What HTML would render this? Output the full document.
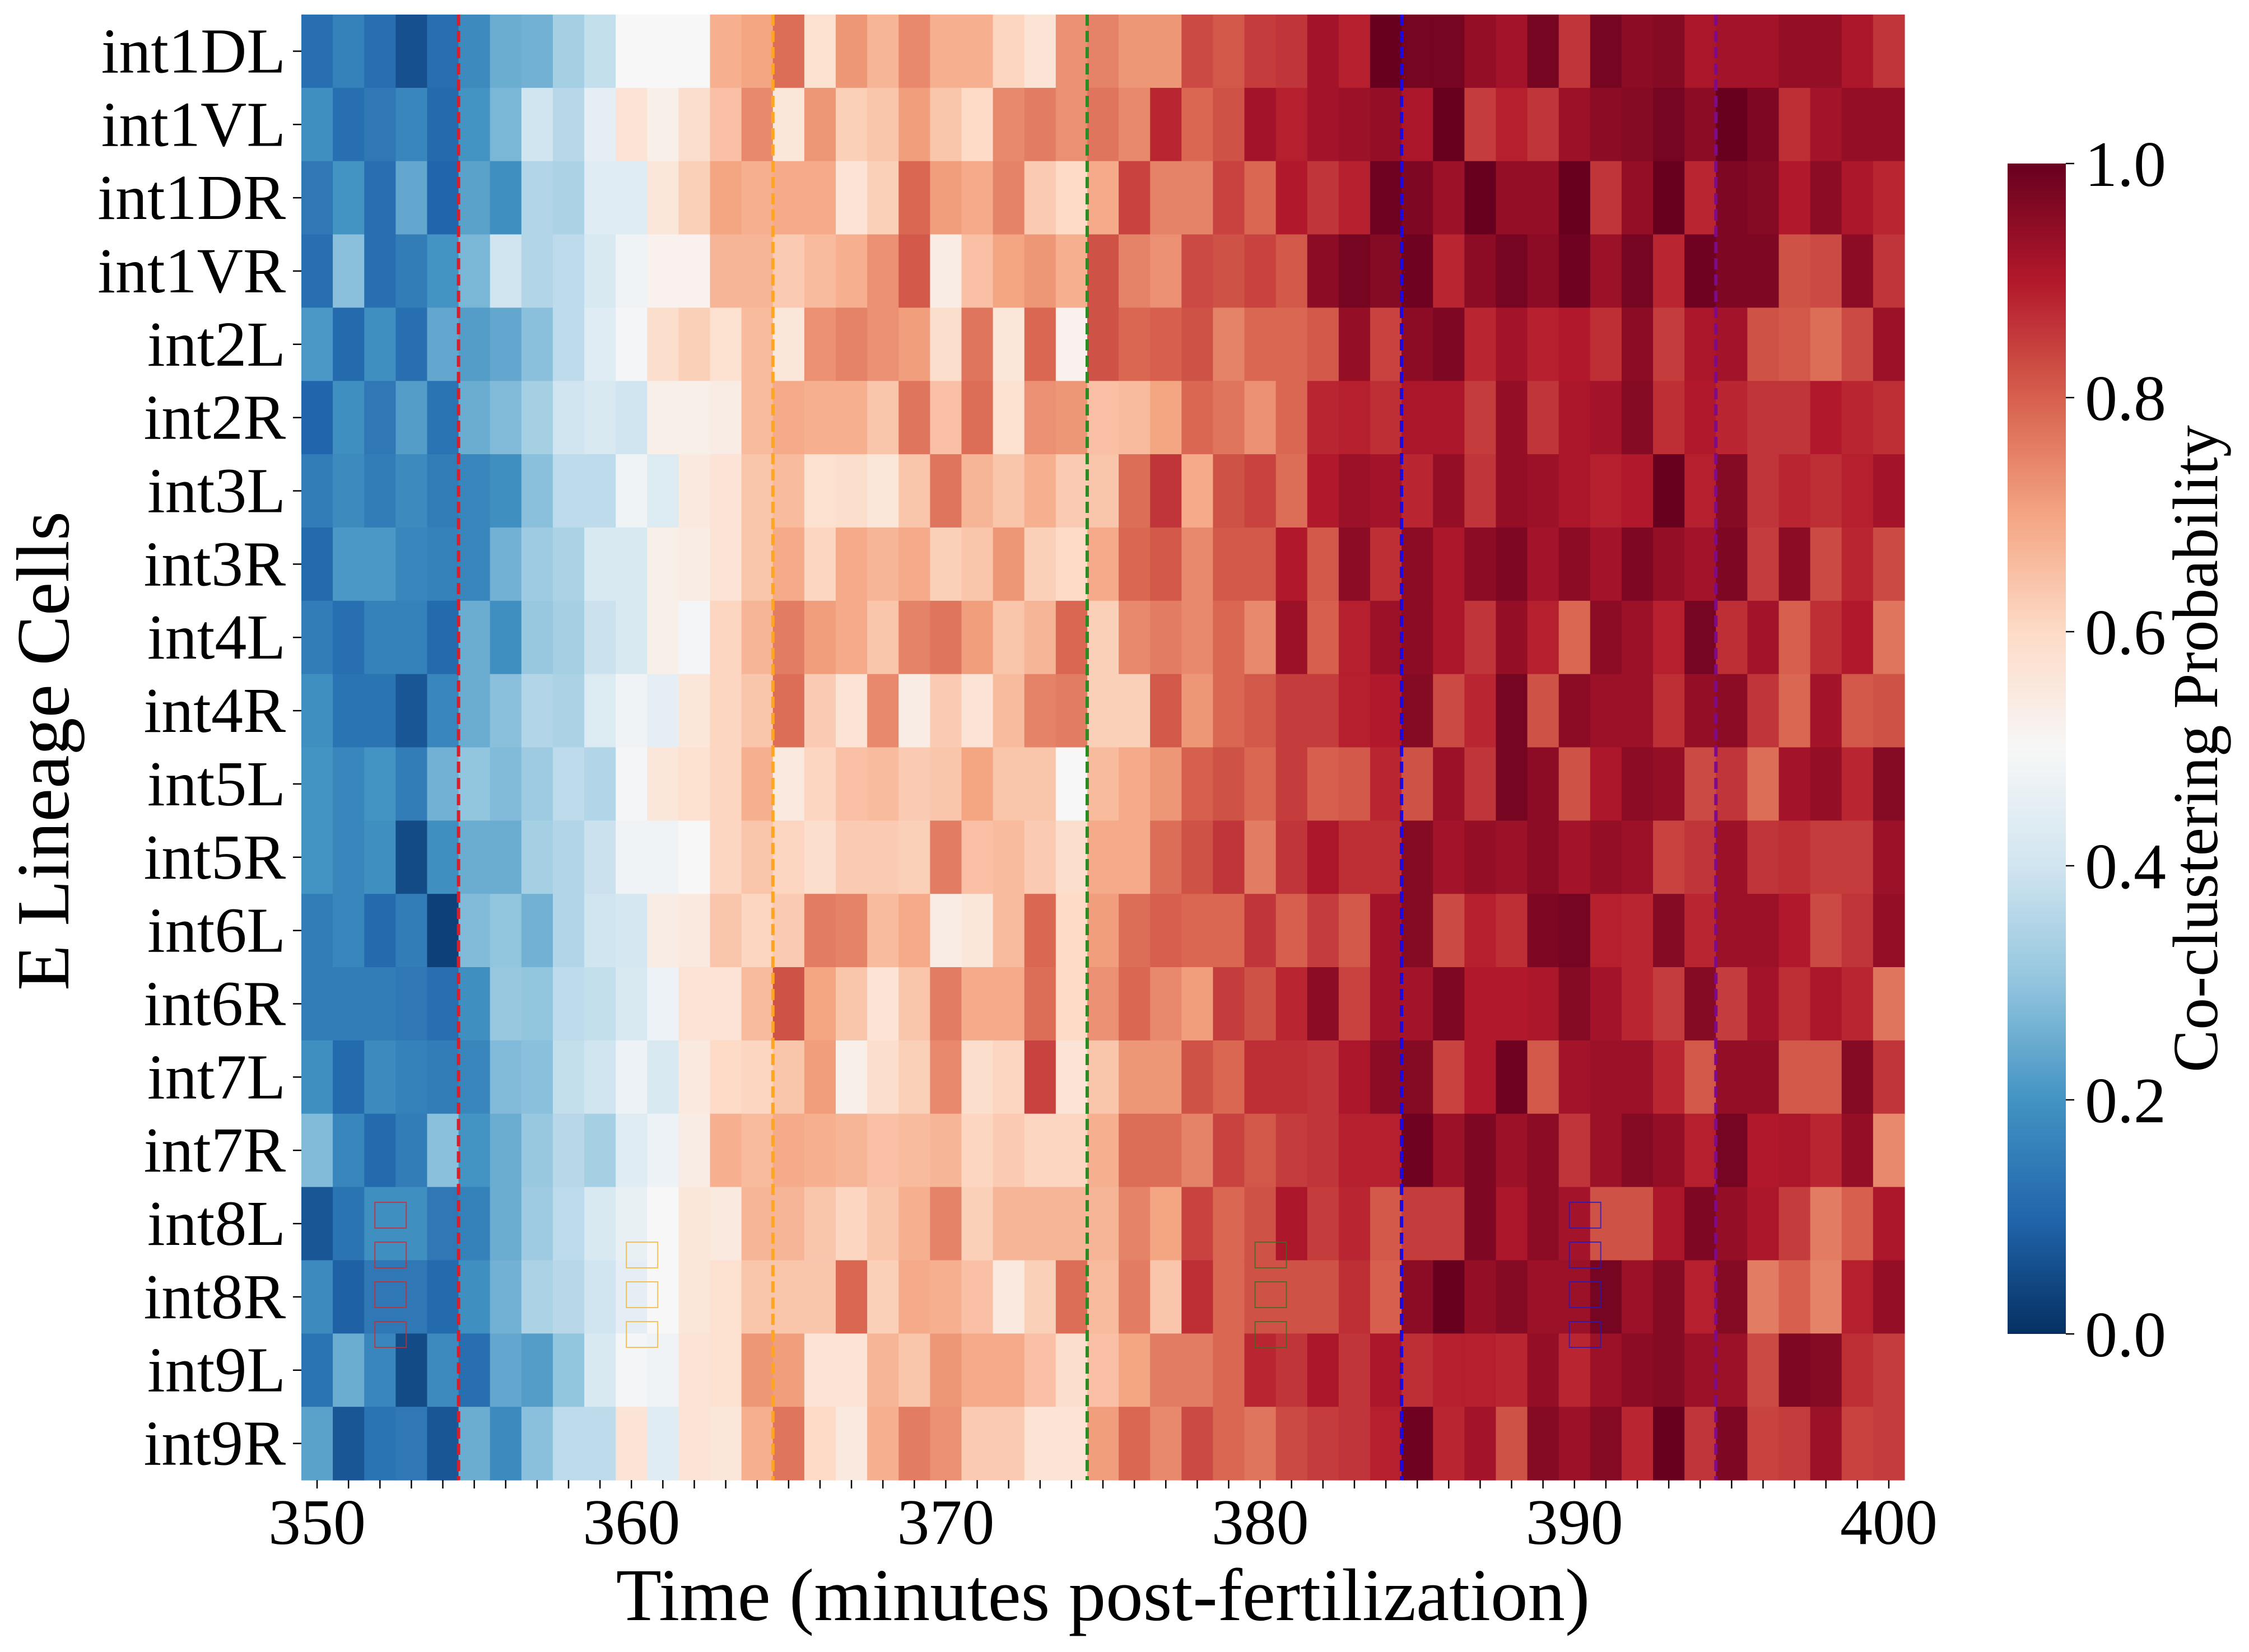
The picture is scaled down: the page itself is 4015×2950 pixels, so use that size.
<!DOCTYPE html>
<html><head><meta charset="utf-8">
<style>
html,body{margin:0;padding:0;background:#fff;}
svg{display:block;}
text{font-family:"Liberation Serif","DejaVu Serif",serif;fill:#000;}
</style></head>
<body>
<svg id="chart" xmlns="http://www.w3.org/2000/svg" width="4015" height="2950" viewBox="0 0 4015 2950">
<defs>
<linearGradient id="cbgrad" x1="0" y1="1" x2="0" y2="0">
<stop offset="0" stop-color="#053061"/><stop offset="0.1" stop-color="#2166ac"/><stop offset="0.2" stop-color="#4393c3"/><stop offset="0.3" stop-color="#92c5de"/><stop offset="0.4" stop-color="#d1e5f0"/><stop offset="0.5" stop-color="#f7f7f7"/><stop offset="0.6" stop-color="#fddbc7"/><stop offset="0.7" stop-color="#f4a582"/><stop offset="0.8" stop-color="#d6604d"/><stop offset="0.9" stop-color="#b2182b"/><stop offset="1" stop-color="#67001f"/>
</linearGradient>
</defs>
<g id="cells"></g>
<g id="vlines"></g>
<g id="marks"></g>
<g id="yaxis"></g>
<g id="xaxis"></g>
<text x="1969" y="2893" font-size="133" text-anchor="middle">Time (minutes post-fertilization)</text>
<text x="122" y="1341" font-size="134" text-anchor="middle" transform="rotate(-90 122 1341)">E Lineage Cells</text>
<g>
<rect x="3584" y="292" width="104" height="2090" fill="url(#cbgrad)"/>
<g id="cbticks"></g>
<text x="3958" y="1337" font-size="114" text-anchor="middle" transform="rotate(-90 3958 1337)">Co-clustering Probability</text>
</g>
</svg>
<script>
const cells = ["int1DL","int1VL","int1DR","int1VR","int2L","int2R","int3L","int3R","int4L","int4R","int5L","int5R","int6L","int6R","int7L","int7R","int8L","int8R","int9L","int9R"];
const times = [];
for (let t = 350; t <= 400; t++) times.push(t);
const xTickLabels = [350,360,370,380,390,400];
const cbTicks = [0.0,0.2,0.4,0.6,0.8,1.0];
const stageLines = [354.5,364.5,374.5,384.5,394.5];
const stageColors = ["#d2202f","#ffa51f","#2d8a22","#1a0ae0","#7d0a8a"];
const values = [
[0.12,0.16,0.12,0.06,0.12,0.18,0.25,0.26,0.33,0.38,0.50,0.50,0.50,0.68,0.70,0.78,0.58, 0.72,0.67,0.74,0.68,0.68,0.61,0.57,0.73,0.75,0.72,0.72,0.83,0.81,0.85,0.86,0.92,0.89, 1.00,0.98,0.98,0.94,0.92,0.98,0.86,0.98,0.95,0.96,0.91,0.92,0.92,0.94,0.94,0.91,0.86],
[0.19,0.12,0.14,0.17,0.11,0.20,0.27,0.40,0.36,0.45,0.57,0.53,0.59,0.65,0.74,0.56,0.72, 0.62,0.64,0.71,0.64,0.60,0.74,0.76,0.73,0.77,0.74,0.88,0.79,0.82,0.92,0.89,0.92,0.93, 0.94,0.91,1.00,0.85,0.89,0.86,0.93,0.95,0.96,0.98,0.95,1.00,0.97,0.87,0.92,0.94,0.94],
[0.14,0.20,0.12,0.24,0.10,0.23,0.19,0.35,0.34,0.44,0.44,0.56,0.62,0.70,0.68,0.69,0.69, 0.57,0.62,0.79,0.71,0.69,0.75,0.63,0.60,0.69,0.84,0.75,0.75,0.84,0.79,0.90,0.86,0.89, 0.99,0.97,0.93,1.00,0.94,0.94,1.00,0.86,0.94,1.00,0.88,0.97,0.96,0.90,0.95,0.91,0.88],
[0.12,0.29,0.12,0.15,0.20,0.27,0.40,0.35,0.37,0.42,0.48,0.52,0.52,0.67,0.67,0.63,0.66, 0.68,0.73,0.81,0.54,0.65,0.70,0.72,0.68,0.82,0.75,0.73,0.83,0.82,0.84,0.81,0.95,0.98, 0.96,0.99,0.88,0.95,0.98,0.95,0.99,0.93,0.98,0.88,0.99,0.97,0.97,0.82,0.83,0.95,0.86],
[0.21,0.11,0.19,0.12,0.24,0.22,0.24,0.29,0.37,0.44,0.49,0.59,0.62,0.58,0.66,0.56,0.73, 0.75,0.73,0.71,0.59,0.77,0.56,0.79,0.52,0.82,0.79,0.80,0.82,0.75,0.79,0.79,0.81,0.94, 0.84,0.95,0.97,0.88,0.92,0.89,0.90,0.87,0.95,0.85,0.91,0.92,0.82,0.81,0.78,0.83,0.93],
[0.10,0.19,0.14,0.22,0.13,0.25,0.28,0.33,0.40,0.42,0.40,0.53,0.53,0.54,0.66,0.69,0.68, 0.68,0.64,0.77,0.65,0.78,0.58,0.73,0.72,0.65,0.66,0.70,0.79,0.77,0.73,0.79,0.88,0.89, 0.87,0.91,0.91,0.85,0.94,0.86,0.91,0.92,0.96,0.87,0.90,0.88,0.86,0.86,0.90,0.88,0.87],
[0.15,0.18,0.15,0.18,0.15,0.17,0.19,0.29,0.37,0.37,0.48,0.43,0.55,0.57,0.64,0.66,0.58, 0.59,0.56,0.64,0.77,0.67,0.64,0.68,0.63,0.64,0.78,0.86,0.69,0.82,0.84,0.78,0.90,0.93, 0.92,0.88,0.94,0.86,0.94,0.93,0.91,0.89,0.90,1.00,0.89,0.96,0.86,0.88,0.87,0.89,0.92],
[0.11,0.21,0.21,0.17,0.16,0.17,0.26,0.32,0.34,0.42,0.42,0.53,0.54,0.57,0.64,0.69,0.61, 0.69,0.67,0.69,0.62,0.64,0.72,0.62,0.60,0.69,0.79,0.81,0.74,0.81,0.81,0.90,0.81,0.95, 0.87,0.95,0.91,0.95,0.97,0.92,0.95,0.92,0.97,0.94,0.92,0.97,0.85,0.95,0.83,0.88,0.83],
[0.15,0.12,0.16,0.16,0.11,0.25,0.19,0.31,0.33,0.39,0.42,0.53,0.49,0.61,0.67,0.76,0.71, 0.69,0.64,0.75,0.77,0.71,0.64,0.67,0.79,0.62,0.74,0.76,0.74,0.79,0.74,0.93,0.80,0.89, 0.93,0.95,0.91,0.86,0.94,0.89,0.79,0.95,0.93,0.89,0.98,0.87,0.92,0.80,0.87,0.90,0.77],
[0.19,0.13,0.13,0.07,0.17,0.25,0.29,0.35,0.34,0.43,0.48,0.45,0.56,0.61,0.64,0.78,0.63, 0.57,0.74,0.54,0.63,0.57,0.66,0.75,0.76,0.62,0.62,0.81,0.72,0.79,0.81,0.85,0.85,0.89, 0.90,0.96,0.83,0.88,0.98,0.82,0.95,0.93,0.93,0.87,0.94,0.95,0.86,0.79,0.92,0.81,0.82],
[0.20,0.17,0.20,0.15,0.26,0.30,0.28,0.32,0.37,0.35,0.49,0.56,0.58,0.61,0.68,0.55,0.61, 0.65,0.66,0.63,0.64,0.70,0.64,0.64,0.50,0.66,0.69,0.72,0.80,0.82,0.79,0.85,0.80,0.81, 0.88,0.82,0.93,0.86,0.98,0.95,0.82,0.91,0.95,0.94,0.83,0.86,0.78,0.92,0.94,0.88,0.96],
[0.20,0.17,0.19,0.05,0.19,0.25,0.25,0.33,0.35,0.39,0.48,0.48,0.50,0.61,0.64,0.61,0.59, 0.63,0.63,0.62,0.76,0.65,0.66,0.63,0.59,0.69,0.69,0.78,0.82,0.86,0.76,0.86,0.91,0.87, 0.87,0.96,0.92,0.94,0.93,0.95,0.92,0.94,0.93,0.84,0.86,0.93,0.86,0.87,0.85,0.85,0.93],
[0.15,0.17,0.11,0.15,0.03,0.28,0.30,0.26,0.35,0.40,0.41,0.54,0.55,0.64,0.61,0.63,0.76, 0.75,0.66,0.69,0.54,0.56,0.66,0.79,0.60,0.71,0.78,0.80,0.79,0.79,0.86,0.80,0.85,0.81, 0.92,0.96,0.83,0.89,0.87,0.97,0.98,0.89,0.88,0.96,0.88,0.93,0.93,0.90,0.83,0.86,0.94],
[0.15,0.15,0.15,0.14,0.12,0.19,0.31,0.30,0.37,0.38,0.42,0.47,0.57,0.57,0.66,0.82,0.70, 0.64,0.57,0.64,0.76,0.69,0.69,0.78,0.60,0.73,0.79,0.74,0.71,0.85,0.82,0.88,0.95,0.84, 0.92,0.92,0.97,0.90,0.90,0.91,0.96,0.92,0.88,0.85,0.96,0.85,0.92,0.87,0.91,0.88,0.77],
[0.19,0.11,0.18,0.16,0.15,0.17,0.28,0.29,0.38,0.40,0.47,0.42,0.55,0.60,0.61,0.64,0.71, 0.53,0.59,0.62,0.74,0.59,0.61,0.84,0.57,0.64,0.72,0.72,0.82,0.79,0.87,0.87,0.86,0.91, 0.95,0.96,0.84,0.90,0.99,0.81,0.92,0.93,0.93,0.88,0.81,0.94,0.94,0.81,0.81,0.96,0.86],
[0.28,0.17,0.11,0.15,0.29,0.20,0.25,0.31,0.36,0.33,0.44,0.47,0.54,0.68,0.66,0.69,0.68, 0.67,0.65,0.66,0.67,0.61,0.63,0.61,0.61,0.68,0.78,0.78,0.75,0.84,0.81,0.85,0.86,0.89, 0.89,0.99,0.93,0.97,0.93,0.95,0.86,0.93,0.96,0.94,0.89,0.98,0.90,0.91,0.88,0.94,0.74],
[0.07,0.13,0.19,0.19,0.14,0.16,0.25,0.32,0.37,0.42,0.46,0.50,0.56,0.55,0.67,0.67,0.64, 0.61,0.64,0.68,0.75,0.62,0.67,0.67,0.67,0.67,0.75,0.70,0.84,0.79,0.82,0.91,0.85,0.88, 0.81,0.85,0.85,0.97,0.91,0.95,0.92,0.82,0.82,0.91,0.97,0.94,0.91,0.85,0.76,0.80,0.91],
[0.18,0.09,0.14,0.14,0.11,0.19,0.26,0.34,0.36,0.40,0.45,0.50,0.56,0.58,0.64,0.64,0.64, 0.79,0.62,0.69,0.68,0.65,0.55,0.62,0.78,0.66,0.76,0.64,0.87,0.79,0.82,0.82,0.82,0.87, 0.80,0.95,1.00,0.94,0.96,0.93,0.93,0.98,0.93,0.96,0.89,0.96,0.76,0.80,0.75,0.89,0.94],
[0.13,0.25,0.17,0.05,0.18,0.12,0.24,0.22,0.30,0.42,0.49,0.48,0.57,0.58,0.72,0.71,0.57, 0.57,0.67,0.64,0.72,0.69,0.69,0.65,0.59,0.65,0.70,0.76,0.76,0.79,0.88,0.86,0.91,0.86, 0.91,0.87,0.89,0.89,0.88,0.94,0.88,0.93,0.95,0.96,0.93,0.93,0.83,0.97,0.96,0.87,0.85],
[0.23,0.07,0.13,0.14,0.07,0.25,0.18,0.29,0.37,0.37,0.57,0.44,0.57,0.56,0.68,0.77,0.60, 0.55,0.68,0.76,0.73,0.63,0.63,0.57,0.57,0.71,0.79,0.74,0.83,0.79,0.77,0.83,0.85,0.86, 0.89,0.99,0.88,0.92,0.82,0.96,0.93,0.96,0.88,1.00,0.86,0.97,0.84,0.85,0.93,0.84,0.85]
];
const markerTimes = [352,360,380,390];
const markerCounts = [4,3,3,4];
const markerColors = ["#d62728","#f5b331","#3b6e1e","#1a1ad0"];

const NS = "http://www.w3.org/2000/svg";
const X0 = 538, X1 = 3400, Y0 = 26, Y1 = 2643;
const cw = (X1 - X0) / times.length, ch = (Y1 - Y0) / cells.length;
const xCell = t => X0 + (t - times[0]) * cw;
const xCenter = t => xCell(t) + cw / 2;
const yRow = i => Y0 + i * ch;
const CB_TOP = 292, CB_BOT = 2382;
const yCb = v => CB_BOT - v * (CB_BOT - CB_TOP);

const stops = ["#053061","#2166ac","#4393c3","#92c5de","#d1e5f0","#f7f7f7","#fddbc7","#f4a582","#d6604d","#b2182b","#67001f"];
function hex(h){return [parseInt(h.substr(1,2),16),parseInt(h.substr(3,2),16),parseInt(h.substr(5,2),16)];}
function cmap(v){
  v = Math.max(0, Math.min(1, v));
  const p = v * 10, i = Math.min(9, Math.floor(p)), f = p - i;
  const a = hex(stops[i]), b = hex(stops[i+1]);
  return "rgb(" + a.map((c,k)=>Math.round(c + (b[k]-c)*f)).join(",") + ")";
}
function mk(tag, attrs, parent){
  const e = document.createElementNS(NS, tag);
  for (const k in attrs) e.setAttribute(k, attrs[k]);
  parent.appendChild(e);
  return e;
}

const gCells = document.getElementById("cells");
values.forEach((row, r) => {
  row.forEach((v, c) => {
    const el = mk("rect", {x: xCell(times[c]).toFixed(2), y: yRow(r).toFixed(2), width: (cw+0.6).toFixed(2), height: (ch+0.6).toFixed(2), fill: cmap(v)}, gCells);
    
    
  });
});

const gV = document.getElementById("vlines");
stageLines.forEach((t, i) => {
  const x = xCell(t - 0.5) + cw;
  const el = mk("line", {x1: x, y1: Y0, x2: x, y2: Y1, stroke: stageColors[i], "stroke-width": 6, "stroke-dasharray": "20,9"}, gV);
  
  
});

const gM = document.getElementById("marks");
const markerY = [2147, 2218, 2289, 2360];
markerTimes.forEach((t, i) => {
  const start = 4 - markerCounts[i];
  for (let k = start; k < 4; k++) {
    const el = mk("rect", {x: xCell(t) + 19, y: markerY[k], width: 56, height: 46, fill: "none", stroke: markerColors[i], "stroke-width": 2, opacity: 0.8}, gM);
    
    
  }
});

const gY = document.getElementById("yaxis");
cells.forEach((name, i) => {
  const yc = yRow(i) + ch / 2;
  const tk = mk("line", {x1: X0 - 15, y1: yc, x2: X0, y2: yc, stroke: "#000", "stroke-width": 2.5}, gY);
  
  
  const tx = mk("text", {x: 510, y: yc + 38, "font-size": 114, "text-anchor": "end"}, gY);
  tx.textContent = name;
  
  
});

const gX = document.getElementById("xaxis");
times.forEach(t => {
  const x = xCenter(t);
  const tk = mk("line", {x1: x, y1: Y1, x2: x, y2: Y1 + 15, stroke: "#000", "stroke-width": 2.5}, gX);
  
  
});
xTickLabels.forEach(t => {
  const tx = mk("text", {x: xCenter(t), y: 2757, "font-size": 116, "text-anchor": "middle"}, gX);
  tx.textContent = String(t);
  
  
});

const gC = document.getElementById("cbticks");
cbTicks.forEach(v => {
  const y = yCb(v);
  const tk = mk("line", {x1: 3688, y1: y, x2: 3703, y2: y, stroke: "#000", "stroke-width": 2.5}, gC);
  
  
  const tx = mk("text", {x: 3722, y: y + 40, "font-size": 116}, gC);
  tx.textContent = v.toFixed(1);
  
  
});
</script>
</body></html>
